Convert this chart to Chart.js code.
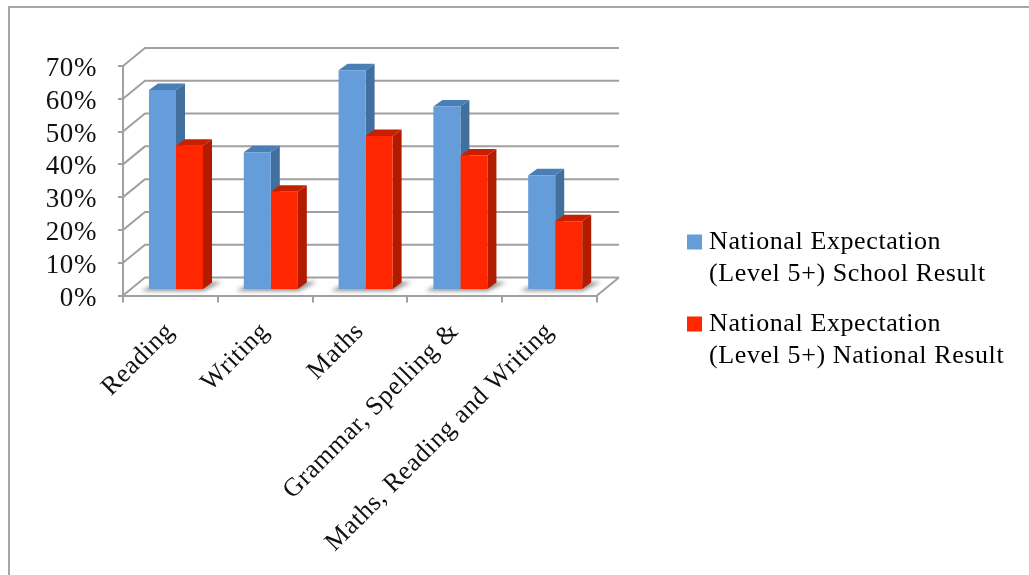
<!DOCTYPE html>
<html>
<head>
<meta charset="utf-8">
<style>
  html, body { margin: 0; padding: 0; background: #fff; overflow: hidden; }
  canvas { display: block; }
</style>
<script src="https://cdnjs.cloudflare.com/ajax/libs/Chart.js/4.4.1/chart.umd.js"></script>
</head>
<body>
<canvas id="chart-canvas" width="1029" height="575"></canvas>
<script>
const categories = ["Reading", "Writing", "Maths", "Grammar, Spelling &", "Maths, Reading and Writing"];
const schoolResult = [61, 42, 67, 56, 35];
const nationalResult = [44, 30, 47, 41, 21];
const schoolLabel = ["National Expectation", "(Level 5+) School Result"];
const nationalLabel = ["National Expectation", "(Level 5+) National Result"];

const FONT = "'Liberation Serif', serif";
const GRID = "#a0a0a0";
// depth of the fake 3d box, and of each bar inside it
const WALL_DX = 22, WALL_DY = -18;
const BAR_DX = 9, BAR_DY = -6.5;
const BAR_SHIFT_X = 5.6, BAR_SHIFT_Y = -5.5;
const faces = [
  {top: "#4a7eb6", side: "#41709f"},
  {top: "#c72000", side: "#b21b00"}
];

function poly(ctx, pts, fill) {
  ctx.beginPath();
  pts.forEach((p, i) => i ? ctx.lineTo(p[0], p[1]) : ctx.moveTo(p[0], p[1]));
  ctx.closePath();
  ctx.fillStyle = fill;
  ctx.fill();
}

const box3d = {
  id: "box3d",
  beforeLayout(chart) {
    // reference font runs wider than anything installed
    chart.ctx.letterSpacing = "0.6px";
  },
  afterLayout(chart) {
    // park the legend to the right of the plot
    const lg = chart.legend;
    const w = lg.width, h = lg.height;
    lg.left = 675; lg.right = lg.left + w;
    lg.top = 211; lg.bottom = lg.top + h;
  },
  beforeDraw(chart) {
    const ctx = chart.ctx;
    ctx.letterSpacing = "0.6px";
    ctx.save();
    ctx.strokeStyle = "#a6a6a6";
    ctx.lineWidth = 2;
    ctx.beginPath();
    ctx.moveTo(9, 575);
    ctx.lineTo(9, 7);
    ctx.lineTo(1029, 7);
    ctx.stroke();
    ctx.restore();
  },
  beforeDatasetsDraw(chart) {
    const ctx = chart.ctx, a = chart.chartArea, y = chart.scales.y;
    ctx.save();
    ctx.strokeStyle = GRID;
    ctx.lineWidth = 2;
    y.ticks.forEach(t => {
      const py = y.getPixelForValue(t.value);
      ctx.beginPath();
      ctx.moveTo(a.left, py);
      ctx.lineTo(a.left + WALL_DX, py + WALL_DY);
      ctx.lineTo(a.right + WALL_DX, py + WALL_DY);
      ctx.stroke();
    });
    // right edge of the floor
    ctx.beginPath();
    ctx.moveTo(a.right, a.bottom);
    ctx.lineTo(a.right + WALL_DX, a.bottom + WALL_DY);
    ctx.stroke();
    // floor shadows
    ctx.save();
    ctx.filter = "blur(2px)";
    const blue = chart.getDatasetMeta(0).data, red = chart.getDatasetMeta(1).data;
    blue.forEach((b, i) => {
      const l = b.x - b.width / 2 + BAR_SHIFT_X, r = red[i].x + red[i].width / 2 + BAR_SHIFT_X;
      const base = a.bottom + BAR_SHIFT_Y;
      poly(ctx, [[l - 8, base + 1], [r, base + 1], [r + 19, base - 8], [r, base - 8], [l, base - 3]], "#8f8f8f");
    });
    ctx.restore();
    // side and top faces, blue first so the red ones sit over it
    ctx.translate(BAR_SHIFT_X, BAR_SHIFT_Y);
    [0, 1].forEach(k => {
      chart.getDatasetMeta(k).data.forEach(b => {
        const l = b.x - b.width / 2, r = b.x + b.width / 2;
        poly(ctx, [[r, b.y], [r + BAR_DX, b.y + BAR_DY], [r + BAR_DX, b.base + BAR_DY], [r, b.base]], faces[k].side);
        poly(ctx, [[l, b.y], [l + BAR_DX, b.y + BAR_DY], [r + BAR_DX, b.y + BAR_DY], [r, b.y]], faces[k].top);
      });
    });
    ctx.restore();
  },
  beforeDatasetDraw(chart) {
    chart.ctx.save();
    chart.ctx.translate(BAR_SHIFT_X, BAR_SHIFT_Y);
  },
  afterDatasetDraw(chart) {
    chart.ctx.restore();
  }
};

new Chart(document.getElementById("chart-canvas"), {
  type: "bar",
  data: {
    labels: categories,
    datasets: [
      {label: schoolLabel, data: schoolResult, backgroundColor: "#659ddb", clip: false},
      {label: nationalLabel, data: nationalResult, backgroundColor: "#ff2600", clip: false}
    ]
  },
  plugins: [box3d],
  options: {
    responsive: false,
    animation: false,
    devicePixelRatio: 1,
    categoryPercentage: 0.57,
    barPercentage: 1,
    layout: {padding: {left: 0, top: 66, right: 432, bottom: 0}},
    scales: {
      x: {
        afterFit: s => { s.height = 279.5; },
        border: {color: GRID, width: 2},
        grid: {drawOnChartArea: false, color: GRID, lineWidth: 2, tickLength: 7},
        ticks: {
          autoSkip: false, minRotation: 45, maxRotation: 45, padding: 14,
          color: "#111", font: {family: FONT, size: 26}
        }
      },
      y: {
        min: 0, max: 70,
        afterFit: s => { s.width = 123; },
        border: {color: GRID, width: 2},
        grid: {drawOnChartArea: false, color: GRID, lineWidth: 2, tickLength: 5},
        ticks: {
          autoSkip: false, stepSize: 10, padding: 21, labelOffset: 3,
          color: "#111", font: {family: FONT, size: 27},
          callback: v => v + "%"
        }
      }
    },
    plugins: {
      title: {display: false},
      tooltip: {enabled: false},
      legend: {
        position: "chartArea",
        align: "start",
        labels: {
          boxWidth: 3,
          boxHeight: 3,
          padding: 18,
          color: "#111",
          font: {family: FONT, size: 26, lineHeight: 1.23},
          generateLabels: chart => chart.data.datasets.map((d, i) => ({
            text: d.label,
            fillStyle: d.backgroundColor,
            strokeStyle: d.backgroundColor,
            lineWidth: 12,
            datasetIndex: i
          }))
        }
      }
    }
  }
});
</script>
</body>
</html>
